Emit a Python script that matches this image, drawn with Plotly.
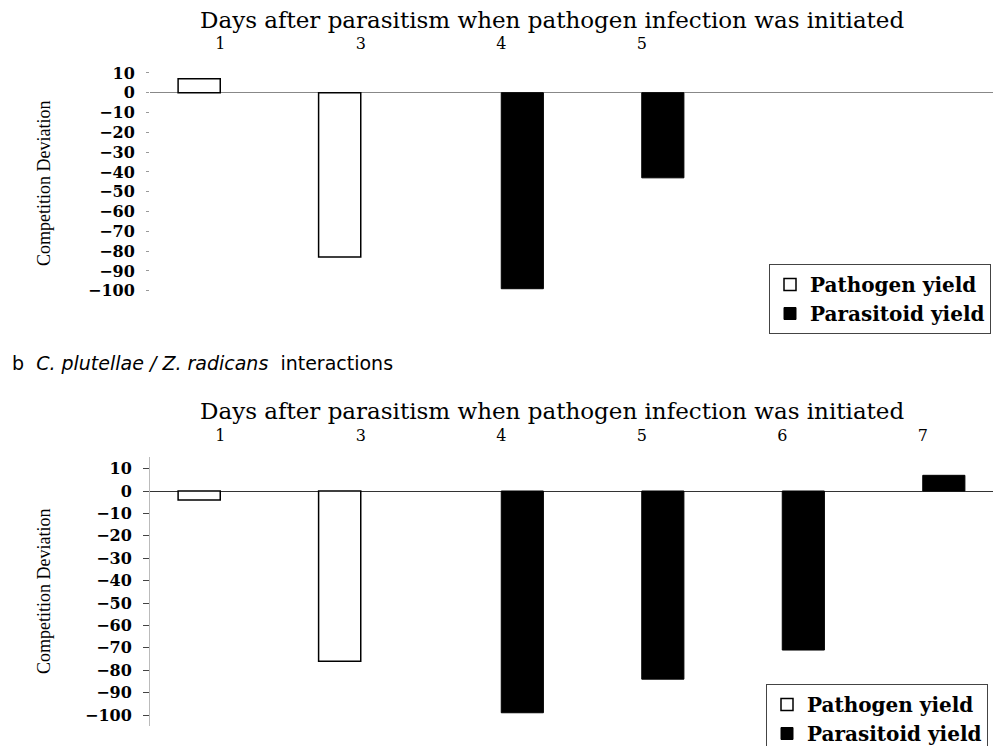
import plotly.graph_objects as go

# Days after parasitism at which pathogen infection was started
days_a = ["1", "3", "4", "5"]
days_b = ["1", "3", "4", "5", "6", "7"]
all_days = ["1", "3", "4", "5", "6", "7"]

# Panel a: competition deviation
pathogen_a = [7, -83, None, None]
parasitoid_a = [None, None, -99, -43]

# Panel b: C. plutellae / Z. radicans interactions
pathogen_b = [-4, -76, None, None, None, None]
parasitoid_b = [None, None, -99, -84, -71, 7]

y_ticks = [10, 0, -10, -20, -30, -40, -50, -60, -70, -80, -90, -100]

W, H = 993, 746
SERIF = "DejaVu Serif"


def py(px):
    """Convert a pixel row (from the top) into paper coordinates."""
    return 1 - px / H


fig = go.Figure()

white_style = dict(color="white", line=dict(color="black", width=1.5))
black_style = dict(color="black", line=dict(color="black", width=1))

fig.add_trace(go.Bar(x=days_a, y=pathogen_a, name="Pathogen yield",
                     marker=white_style, xaxis="x", yaxis="y", legend="legend"))
fig.add_trace(go.Bar(x=days_a, y=parasitoid_a, name="Parasitoid yield",
                     marker=black_style, xaxis="x", yaxis="y", legend="legend"))
fig.add_trace(go.Bar(x=days_b, y=pathogen_b, name="Pathogen yield",
                     marker=white_style, xaxis="x2", yaxis="y2", legend="legend2"))
fig.add_trace(go.Bar(x=days_b, y=parasitoid_b, name="Parasitoid yield",
                     marker=black_style, xaxis="x2", yaxis="y2", legend="legend2"))

xbase = dict(type="category", categoryorder="array", categoryarray=all_days,
             range=[-0.5, 5.5], domain=[150 / W, 1], side="top",
             showgrid=False, showline=False, zeroline=False,
             tickfont=dict(family=SERIF, size=16, color="black"))

ybase = dict(tickvals=y_ticks, showgrid=False,
             ticks="outside", ticklen=6, ticklabelstandoff=8,
             tickfont=dict(family=SERIF, size=16, color="black", weight="bold"),
             zeroline=True, zerolinewidth=1)

legend_font = dict(family=SERIF, size=20, color="black", weight="bold")

# panel a: zero at 92.7 px, 1.98 px per unit; panel b: zero at 491 px, 2.24 px per unit
fig.update_layout(
    width=W, height=H, autosize=False,
    margin=dict(l=0, r=0, t=0, b=0, autoexpand=False),
    paper_bgcolor="white", plot_bgcolor="white",
    barmode="group", bargap=0.4, bargroupgap=0,
    xaxis=dict(xbase, anchor="y", tickvals=days_a, ticks=""),
    yaxis=dict(ybase, anchor="x", range=[-110, 20],
               domain=[py(92.7 + 110 * 1.98), py(92.7 - 20 * 1.98)],
               tickcolor="#999", ticklen=3, showline=False,
               zerolinecolor="#888"),
    # invisible tick marks lift the day labels clear of the plot top
    xaxis2=dict(xbase, anchor="y2", tickvals=days_b, ticks="outside",
                ticklen=9, tickcolor="rgba(0,0,0,0)"),
    yaxis2=dict(ybase, anchor="x2", range=[-105, 15],
                domain=[py(491 + 105 * 2.24), py(491 - 15 * 2.24)],
                tickcolor="#444", showline=True, linecolor="#bbb",
                linewidth=1, zerolinecolor="#333"),
    legend=dict(x=769 / W, xanchor="left", y=py(264), yanchor="top",
                bgcolor="white", bordercolor="#444", borderwidth=1,
                font=legend_font, tracegroupgap=0, itemwidth=30),
    legend2=dict(x=766 / W, xanchor="left", y=py(684), yanchor="top",
                 bgcolor="white", bordercolor="#444", borderwidth=1,
                 font=legend_font, tracegroupgap=0, itemwidth=30),
    showlegend=True,
)

title_text = "Days after parasitism when pathogen infection was initiated"
ytitle = "Competition Deviation"

annotations = [
    dict(text=title_text, x=552 / W, y=py(20), xref="paper", yref="paper",
         xanchor="center", yanchor="middle", showarrow=False,
         font=dict(family=SERIF, size=23, color="black")),
    dict(text=title_text, x=552 / W, y=py(411), xref="paper", yref="paper",
         xanchor="center", yanchor="middle", showarrow=False,
         font=dict(family=SERIF, size=23, color="black")),
    dict(text=ytitle, x=44 / W, y=py(184), xref="paper", yref="paper",
         xanchor="center", yanchor="middle", showarrow=False, textangle=-90,
         font=dict(family="Liberation Serif", size=18, color="black")),
    dict(text=ytitle, x=44 / W, y=py(592), xref="paper", yref="paper",
         xanchor="center", yanchor="middle", showarrow=False, textangle=-90,
         font=dict(family="Liberation Serif", size=18, color="black")),
    dict(text="b  <i>C. plutellae / Z. radicans</i>  interactions",
         x=10 / W, y=py(363), xref="paper", yref="paper",
         xanchor="left", yanchor="middle", showarrow=False,
         font=dict(family="DejaVu Sans", size=19, color="black")),
]
fig.update_layout(annotations=annotations)

fig.write_html("out.html")
